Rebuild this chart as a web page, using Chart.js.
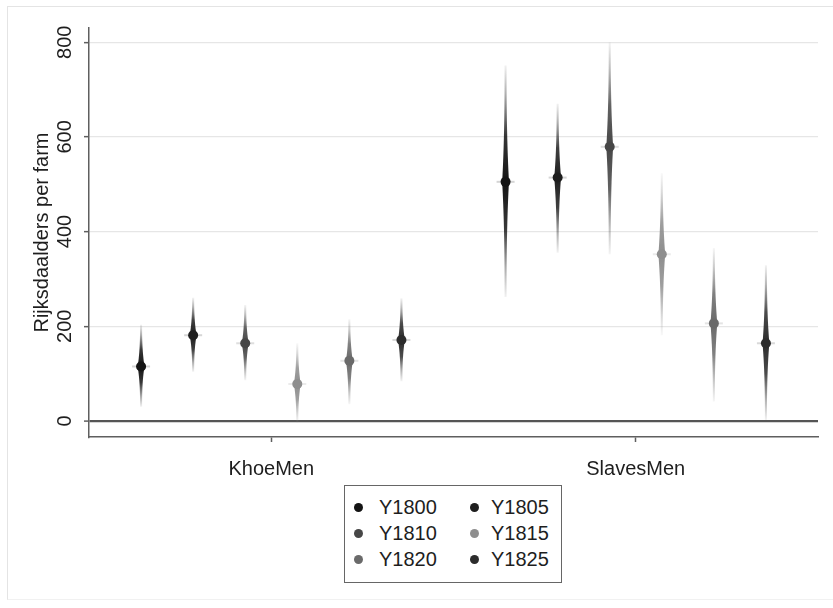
<!DOCTYPE html>
<html>
<head>
<meta charset="utf-8">
<title>Rijksdaalders per farm</title>
<script src="https://cdn.jsdelivr.net/npm/chart.js@4.4.1/dist/chart.umd.min.js"></script>
<style>
  html, body { margin: 0; padding: 0; background: #fff; }
  #wrap { position: relative; width: 833px; height: 608px; overflow: hidden;
          font-family: "Liberation Sans", Arial, Helvetica, sans-serif; }
  #frame { position: absolute; left: 7px; top: 6px; width: 900px; height: 592px;
           border-left: 1px solid #e4e4e4; border-top: 1px solid #e4e4e4; border-bottom: 1px solid #f1f1f1; }
  #chart { position: absolute; left: 0; top: 0; }
  #legend { position: absolute; left: 344px; top: 485px; width: 216px; height: 96px;
            border: 1.5px solid #666; background: #fff; }
  .item { position: absolute; height: 24px; line-height: 24px; font-size: 20px; color: #1e1e1e; white-space: nowrap; }
  .dot { position: absolute; width: 9px; height: 9px; border-radius: 50%; top: 7.5px; }
  .lab { position: absolute; top: 0; }
</style>
</head>
<body>
<div id="wrap">
  <div id="frame"></div>
  <canvas id="chart" width="833" height="608"></canvas>
  <div id="legend"></div>
</div>
<script>
// Groups on the x axis and the survey years plotted inside each group
const categories = ['KhoeMen', 'SlavesMen'];
const seriesNames = ['Y1800', 'Y1805', 'Y1810', 'Y1815', 'Y1820', 'Y1825'];
const seriesColors = ['#141414', '#1e1e1e', '#474747', '#8e8e8e', '#6a6a6a', '#2c2c2c'];

// Estimates (per group: KhoeMen, SlavesMen) with lower / upper interval bounds
const meanY1800 = [115, 505]; const lowY1800 = [30, 262];  const highY1800 = [203, 751];
const meanY1805 = [181, 514]; const lowY1805 = [104, 355]; const highY1805 = [260, 670];
const meanY1810 = [164, 579]; const lowY1810 = [86, 352];  const highY1810 = [245, 800];
const meanY1815 = [78, 352];  const lowY1815 = [-4, 181];  const highY1815 = [164, 523];
const meanY1820 = [127, 206]; const lowY1820 = [35, 41];   const highY1820 = [215, 365];
const meanY1825 = [171, 164]; const lowY1825 = [84, 2];    const highY1825 = [259, 329];

const yTicks = [0, 200, 400, 600, 800];

const means = [meanY1800, meanY1805, meanY1810, meanY1815, meanY1820, meanY1825];
const lows  = [lowY1800, lowY1805, lowY1810, lowY1815, lowY1820, lowY1825];
const highs = [highY1800, highY1805, highY1810, highY1815, highY1820, highY1825];

const FONT = '"Liberation Sans", Arial, Helvetica, sans-serif';
const TEXT = '#1e1e1e';
const AXIS = '#5f5f5f';
const nSeries = seriesNames.length;
const dodge = 1 / 7; // spacing between years inside a group, in category units

const datasets = seriesNames.map((name, s) => ({
  label: name,
  data: categories.map((c, g) => ({
    x: g + (s - (nSeries - 1) / 2) * dodge,
    y: means[s][g], lo: lows[s][g], hi: highs[s][g]
  })),
  pointRadius: 5,
  pointBackgroundColor: seriesColors[s],
  pointBorderWidth: 0,
  backgroundColor: seriesColors[s],
  showLine: false
}));

function rgbOf(hex) {
  const n = parseInt(hex.slice(1), 16);
  return [(n >> 16) & 255, (n >> 8) & 255, n & 255];
}

// Tapered, fading interval "spindles" drawn behind each point
const spindles = {
  id: 'spindles',
  beforeDatasetsDraw(chart) {
    const ctx = chart.ctx;
    const yScale = chart.scales.y;
    chart.data.datasets.forEach((ds, s) => {
      const meta = chart.getDatasetMeta(s);
      const [r, g, b] = rgbOf(seriesColors[s]);
      meta.data.forEach((el, i) => {
        const raw = ds.data[i];
        const px = el.x, py = el.y;
        const ends = [yScale.getPixelForValue(raw.hi), yScale.getPixelForValue(raw.lo)];
        ctx.save();
        ends.forEach(pe => {
          const steps = 40;
          const left = [], right = [];
          for (let k = 0; k <= steps; k++) {
            const t = k / steps;
            const yy = py + (pe - py) * t;
            const w = 1.0 + 2.4 * Math.pow(1 - t, 2.6);
            left.push([px - w, yy]);
            right.push([px + w, yy]);
          }
          const grad = ctx.createLinearGradient(0, py, 0, pe);
          grad.addColorStop(0, `rgba(${r},${g},${b},1)`);
          grad.addColorStop(0.4, `rgba(${r},${g},${b},0.85)`);
          grad.addColorStop(0.75, `rgba(${r},${g},${b},0.35)`);
          grad.addColorStop(1, `rgba(${r},${g},${b},0.06)`);
          ctx.beginPath();
          left.forEach((p, k) => k ? ctx.lineTo(p[0], p[1]) : ctx.moveTo(p[0], p[1]));
          for (let k = right.length - 1; k >= 0; k--) ctx.lineTo(right[k][0], right[k][1]);
          ctx.closePath();
          ctx.fillStyle = grad;
          ctx.fill();
        });
        // soft horizontal smear through the estimate
        ctx.strokeStyle = `rgba(${r},${g},${b},0.18)`;
        ctx.lineWidth = 2;
        ctx.beginPath();
        ctx.moveTo(px - 9, py);
        ctx.lineTo(px + 9, py);
        ctx.stroke();
        ctx.restore();
      });
    });
  }
};

const chart = new Chart(document.getElementById('chart'), {
  type: 'scatter',
  data: { datasets },
  plugins: [spindles],
  options: {
    responsive: false,
    animation: false,
    events: [],
    layout: { padding: { left: 28, top: 28, right: 15, bottom: 111 } },
    plugins: { legend: { display: false }, tooltip: { enabled: false } },
    scales: {
      x: {
        type: 'linear', min: -0.5, max: 1.5,
        afterBuildTicks: sc => { sc.ticks = categories.map((c, i) => ({ value: i })); },
        afterFit: sc => { sc.height = 60; },
        border: { color: AXIS, width: 1.5 },
        grid: { drawOnChartArea: false, drawTicks: true, tickLength: 5, tickColor: AXIS, tickWidth: 1.5 },
        ticks: {
          callback: v => categories[v],
          autoSkip: false, maxRotation: 0, padding: 15,
          font: { family: FONT, size: 20 }, color: TEXT
        }
      },
      y: {
        min: -34, max: 830,
        afterBuildTicks: sc => { sc.ticks = yTicks.map(v => ({ value: v })); },
        afterFit: sc => { sc.width = 61; },
        border: { color: AXIS, width: 1.5 },
        grid: {
          color: c => (c.tick && c.tick.value === 0 ? '#555' : '#e6e6e6'),
          lineWidth: c => (c.tick && c.tick.value === 0 ? 2.2 : 1.3),
          drawTicks: true, tickLength: 5, tickColor: AXIS, tickWidth: 1.5
        },
        ticks: {
          minRotation: 90, maxRotation: 90, crossAlign: 'center', padding: 2,
          font: { family: FONT, size: 20 }, color: TEXT
        },
        title: {
          display: true, text: 'Rijksdaalders per farm',
          font: { family: FONT, size: 20 }, color: TEXT,
          padding: { top: 2, bottom: 0 }
        }
      }
    }
  }
});

// Two-column boxed legend built from the chart's datasets
const legendBox = document.getElementById('legend');
const dotX = [13, 129], textX = [34, 146], rowY0 = 9, rowStep = 26;
chart.data.datasets.forEach((ds, s) => {
  const col = s % 2, row = Math.floor(s / 2);
  const item = document.createElement('div');
  item.className = 'item';
  item.style.left = '0px';
  item.style.top = (rowY0 + row * rowStep) + 'px';
  const dot = document.createElement('span');
  dot.className = 'dot';
  dot.style.left = (dotX[col] - 4.5) + 'px';
  dot.style.background = ds.backgroundColor;
  const lab = document.createElement('span');
  lab.className = 'lab';
  lab.style.left = textX[col] + 'px';
  lab.textContent = ds.label;
  item.appendChild(dot);
  item.appendChild(lab);
  legendBox.appendChild(item);
});
</script>
</body>
</html>
